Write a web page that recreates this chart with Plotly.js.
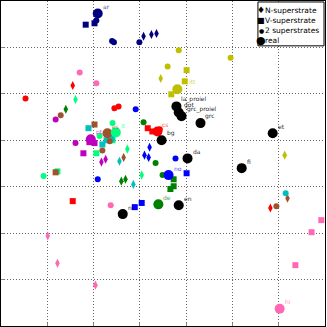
<!DOCTYPE html>
<html>
<head>
<meta charset="utf-8">
<script src="https://cdn.plot.ly/plotly-3.0.1.min.js"></script>
<style>html,body{margin:0;padding:0;background:#fff;}#chart{width:327px;height:327px;}</style>
</head>
<body>
<div id="chart"></div>
<script>
// N-superstrate (diamonds)
const nX = [3.08,3.25,3.36, 3.45,6.13, 1.55,5.82, 1.01,1.22,2.04, 1.61,2.73,3.04, 1.40,2.60,2.69, 3.21,3.10,3.19, 2.26,2.17, 2.65,6.19, 2.56,2.86];
const nY = [6.24,6.28,6.30, 5.33,3.68, 5.18,2.54, 1.94,1.35,0.88, 4.88,3.81,3.25, 4.67,3.12,3.16, 3.85,3.68,3.63, 3.59,3.53, 3.63,2.75, 3.55,3.05];
const nGroup = ['ar','ar','ar','it_itt','it_itt','cs','cs','hi','hi','hi','it','it','it','de','de','de','no','no','no','pt','pt','es','es','cy','cy'];
// V-superstrate (squares)
const vX = [1.83,2.02, 4.01,3.97,3.68, 3.17,3.27,1.55, 6.92,6.71,6.36, 2.41,2.06,1.22, 3.73,3.73,3.66, 4.01,2.89,3.04, 1.91,2.02,1.78, 2.02,1.18, 1.89,2.19,2.28,2.39];
const vY = [6.49,6.52, 5.51,5.27,4.99, 4.26,4.19,2.69, 2.28,2.02,1.31, 4.00,3.72,3.33, 3.16,3.01,2.95, 3.29,2.56,2.65, 3.96,3.94,3.72, 4.34,3.31, 4.26,3.91,4.00,4.04];
const vGroup = ['ar','ar','it_itt','it_itt','it_itt','cs','cs','cs','hi','hi','hi','it','it','it','de','de','de','no','no','no','pt','pt','pt','es','es','cy','cy','cy','cy'];
// 2 superstrates (small circles)
const sX = [2.06,2.40,2.44,2.99, 3.84,4.96,3.60, 0.53,2.45,2.54,3.43, 1.70,2.06,2.37, 2.41,2.13,0.92, 3.08,3.34,3.49, 2.91,3.77,2.09, 1.18,1.61, 1.29,2.35,2.19,5.95, 6.15];
const sY = [6.58,6.14,6.11,6.11, 5.94,5.78,5.59, 4.90,4.69,4.73,4.24, 5.46,5.23,2.60, 4.37,4.09,3.23, 4.39,3.51,3.25, 4.67,3.61,3.16, 4.45,3.94, 4.54,3.98,3.78,2.58, 2.86];
const sGroup = ['ar','ar','ar','ar','it_itt','it_itt','it_itt','cs','cs','cs','cs','hi','hi','hi','it','it','it','de','de','de','no','no','no','pt','pt','es','es','es','es','cy'];
// real languages (large circles)
const realLang = ['ar','it_itt','la_proiel','got','grc_proiel','grc','cs','bg','da','no','de','en','nl','et','fi','hi','es','it','pt'];
const realX = [2.09,3.81,3.79,3.84,3.90,4.31,3.38,3.47,4.03,3.62,3.40,3.84,2.63,5.87,5.20,6.02,2.30,2.48,1.94];
const realY = [6.73,5.10,4.73,4.60,4.52,4.37,4.19,4.00,3.61,3.25,2.62,2.60,2.41,4.15,3.40,0.37,4.15,4.17,4.02];
const legendNames = ['N-superstrate','V-superstrate','2 superstrates','real'];

const colorMap = {ar:'#000080', it_itt:'#bfbf00', cs:'#ff0000', hi:'#ff69b4', it:'#00ff7f', de:'#008000', no:'#0000ff', pt:'#bf00bf', es:'#a0522d', cy:'#00bfbf'};
const col = g => colorMap[g] || '#000000';
const alpha = (hex, a) => { const r=parseInt(hex.slice(1,3),16), g=parseInt(hex.slice(3,5),16), b=parseInt(hex.slice(5,7),16); return `rgba(${r},${g},${b},${a})`; };

const traces = [
  {x:nX, y:nY, type:'scatter', mode:'markers', showlegend:false, hoverinfo:'skip',
   marker:{symbol:'diamond-tall', size:6.5, color:nGroup.map(col), line:{width:0}}},
  {x:vX, y:vY, type:'scatter', mode:'markers', showlegend:false, hoverinfo:'skip',
   marker:{symbol:'square', size:6, color:vGroup.map(col), line:{width:0}}},
  {x:sX, y:sY, type:'scatter', mode:'markers', showlegend:false, hoverinfo:'skip',
   marker:{symbol:'circle', size:6, color:sGroup.map(col), line:{width:0}}},
  {x:realX, y:realY, type:'scatter', mode:'markers', showlegend:false, hoverinfo:'skip',
   marker:{symbol:'circle', size:10, color:realLang.map(col), line:{width:0}}}
];

const annotations = realLang.map((l,i)=>({x:realX[i], y:realY[i], xref:'x', yref:'y', text:l, showarrow:false,
  xanchor:'left', yanchor:'middle', xshift:3, yshift:7,
  font:{family:'DejaVu Sans', size:6, color:alpha(col(l), colorMap[l] ? 0.75 : 0.9)}}));

// compact legend (matplotlib style) built from text
const legGlyph = ['\u2666','\u25A0','\u25CF','\u25CF'];
const legGlyphSize = [9,8,6,11];
const rowY = [0.972, 0.9415, 0.909, 0.877];
legendNames.forEach((nm,i)=>{
  annotations.push({xref:'paper', yref:'paper', x:0.8025, y:rowY[i], xanchor:'center', yanchor:'middle', showarrow:false,
    text:legGlyph[i], font:{family:'DejaVu Sans', size:legGlyphSize[i], color:'#000'}, borderpad:0, borderwidth:0});
  annotations.push({xref:'paper', yref:'paper', x:0.816, y:rowY[i], xanchor:'left', yanchor:'middle', showarrow:false,
    text:nm, font:{family:'DejaVu Sans', size:7.5, color:'#000'}, borderpad:0, borderwidth:0});
});

const ax = {range:[0,7], dtick:1, showticklabels:false, showgrid:true, gridcolor:'#666', griddash:'1px,2px', gridwidth:1,
  zeroline:false, showline:true, mirror:true, linecolor:'#000', linewidth:1, ticks:'inside', ticklen:3, tickcolor:'#888'};

const layout = {
  width:327, height:327, margin:{l:1, r:2, t:1, b:1},
  paper_bgcolor:'#fff', plot_bgcolor:'#fff',
  xaxis:Object.assign({}, ax), yaxis:Object.assign({}, ax),
  showlegend:false,
  shapes:[{type:'rect', xref:'paper', yref:'paper', x0:0.793, x1:0.997, y0:0.862, y1:0.997,
    line:{color:'#000', width:1}, fillcolor:'#fff', layer:'above'}],
  annotations:annotations,
  font:{family:'DejaVu Sans'}
};
Plotly.newPlot('chart', traces, layout, {staticPlot:true, displayModeBar:false});
</script>
</body>
</html>
